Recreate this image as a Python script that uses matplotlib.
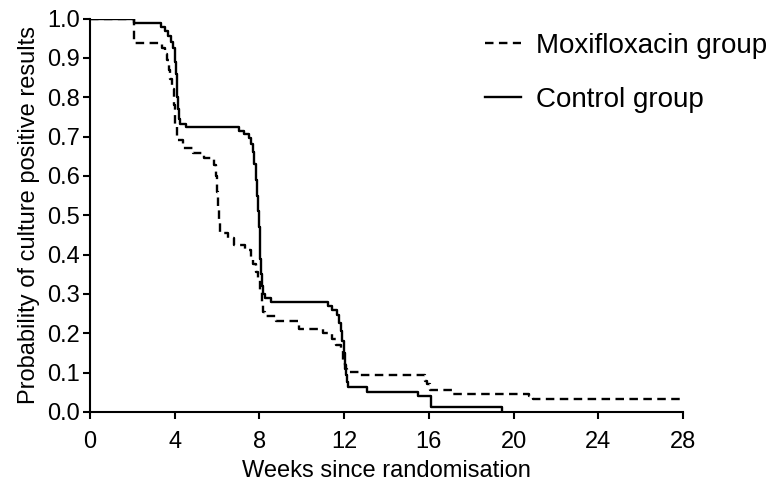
import matplotlib
matplotlib.use("Agg")
import matplotlib.pyplot as plt

plt.rcParams['font.family'] = ['Liberation Sans', 'DejaVu Sans']

# Kaplan-Meier style step data (weeks, probability)
ctrl_t = [0, 2.06, 3.36, 3.56, 3.70, 3.83, 3.92, 3.99, 4.03, 4.06,
          4.09, 4.12, 4.15, 4.18, 4.27, 4.55, 7.02, 7.26, 7.49, 7.60,
          7.68, 7.75, 7.82, 7.88, 7.93, 7.97, 8.01, 8.05, 8.09, 8.13,
          8.18, 8.28, 8.55, 11.22, 11.42, 11.66, 11.77, 11.85, 11.92, 11.98,
          12.04, 12.09, 12.13, 12.20, 13.08, 15.51, 16.09, 19.45]
ctrl_s = [1.0, 0.988, 0.979, 0.968, 0.955, 0.94, 0.925, 0.91, 0.89, 0.86,
          0.83, 0.80, 0.77, 0.745, 0.732, 0.723, 0.715, 0.706, 0.696, 0.68,
          0.66, 0.63, 0.59, 0.55, 0.51, 0.47, 0.43, 0.39, 0.35, 0.32,
          0.30, 0.289, 0.28, 0.269, 0.259, 0.246, 0.225, 0.205, 0.18, 0.15,
          0.12, 0.095, 0.075, 0.063, 0.052, 0.041, 0.012, 0.0]

moxi_t = [0, 2.10, 3.41, 3.55, 3.65, 3.72, 3.80, 3.88, 3.96, 4.03,
          4.10, 4.40, 4.85, 5.40, 5.84, 5.93, 5.99, 6.04, 6.09, 6.15,
          6.50, 6.80, 7.34, 7.62, 7.72, 7.85, 7.95, 8.05, 8.10, 8.15,
          8.28, 8.80, 9.85, 11.00, 11.45, 11.60, 11.85, 11.95, 12.05, 12.12,
          12.75, 15.80, 15.92, 16.05, 17.15, 20.75, 20.90, 28.0]
moxi_s = [1.0, 0.937, 0.924, 0.911, 0.895, 0.87, 0.845, 0.82, 0.78, 0.73,
          0.69, 0.67, 0.659, 0.645, 0.628, 0.60, 0.56, 0.52, 0.48, 0.455,
          0.441, 0.424, 0.412, 0.39, 0.375, 0.357, 0.34, 0.31, 0.28, 0.255,
          0.244, 0.23, 0.211, 0.20, 0.185, 0.17, 0.155, 0.132, 0.11, 0.102,
          0.094, 0.08, 0.07, 0.056, 0.047, 0.04, 0.032, 0.032]

x_ticks = [0, 4, 8, 12, 16, 20, 24, 28]
y_ticks = [0.0, 0.1, 0.2, 0.3, 0.4, 0.5, 0.6, 0.7, 0.8, 0.9, 1.0]

fig = plt.figure(figsize=(7.73, 4.93), dpi=100)
ax = fig.add_axes([90/773, (493-412)/493, (683-90)/773, (412-18.5)/493])

ax.step(moxi_t, moxi_s, where='post', color='black', lw=1.7,
        linestyle=(0, (3.6, 2.3)), label='Moxifloxacin group')
ax.step(ctrl_t, ctrl_s, where='post', color='black', lw=1.7,
        linestyle='-', label='Control group')

ax.set_xlim(0, 28)
ax.set_ylim(0, 1)
ax.set_xticks(x_ticks)
ax.set_yticks(y_ticks)
ax.set_yticklabels([f"{v:.1f}" for v in y_ticks])

for s in ['top', 'right']:
    ax.spines[s].set_visible(False)
for s in ['left', 'bottom']:
    ax.spines[s].set_linewidth(1.5)
ax.tick_params(direction='out', length=5, width=1.5, labelsize=17)
ax.tick_params(axis='y', pad=2)
ax.tick_params(axis='x', pad=9)

ax.set_xlabel('Weeks since randomisation', fontsize=17, labelpad=5)
ax.set_ylabel('Probability of culture positive results', fontsize=17, labelpad=5)

leg = ax.legend(loc='upper left', bbox_to_anchor=(485/773, 1 - 33/493),
                bbox_transform=fig.transFigure, frameon=False, fontsize=20,
                handlelength=1.3, handletextpad=0.55, labelspacing=1.0,
                borderaxespad=0, borderpad=0)

fig.savefig('out.png', dpi=100)
